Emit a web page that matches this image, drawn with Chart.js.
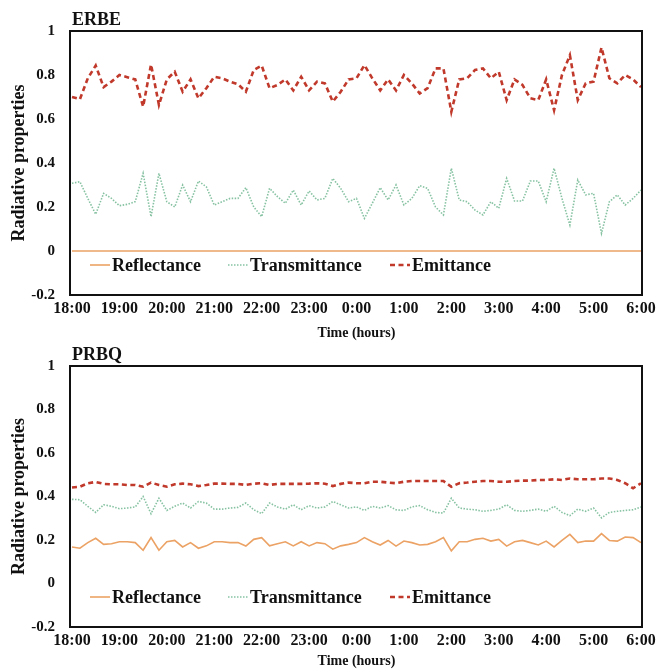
<!DOCTYPE html>
<html>
<head>
<meta charset="utf-8">
<script src="https://cdn.jsdelivr.net/npm/chart.js@4.4.0/dist/chart.umd.min.js"></script>
<style>
  html, body { margin: 0; padding: 0; background: #fff; }
  #wrap { position: relative; width: 656px; height: 672px; }
  .panel { position: absolute; left: 0; width: 656px; }
  #p1 { top: 0; height: 345px; }
  #p2 { top: 340px; height: 332px; }
</style>
</head>
<body>
<div id="wrap">
  <div class="panel" id="p1"><canvas id="erbeChart"></canvas></div>
  <div class="panel" id="p2"><canvas id="prbqChart"></canvas></div>
</div>
<script>
// hour tick labels, one every 6th sample (10 min sampling)
const hourLabels = ['18:00', '19:00', '20:00', '21:00', '22:00', '23:00', '0:00',
                    '1:00', '2:00', '3:00', '4:00', '5:00', '6:00'];

// 10-minute categories from 18:00 to 6:00
const times = [];
for (let i = 0; i <= 72; i++) {
  const m = 18 * 60 + i * 10;
  const h = Math.floor(m / 60) % 24;
  const mm = m % 60;
  times.push(h + ':' + (mm < 10 ? '0' : '') + mm);
}

const seriesNames = ['Reflectance', 'Transmittance', 'Emittance'];

// ERBE
const erbeReflectance = new Array(73).fill(0);
const erbeTransmittance = [
  0.308, 0.315, 0.239, 0.167, 0.262, 0.239, 0.206, 0.212, 0.224, 0.353,
  0.156, 0.353, 0.224, 0.200, 0.300, 0.224, 0.318, 0.292, 0.209, 0.224,
  0.239, 0.239, 0.288, 0.200, 0.156, 0.285, 0.247, 0.217, 0.277, 0.209,
  0.273, 0.232, 0.239, 0.330, 0.285, 0.224, 0.239, 0.148, 0.217, 0.288,
  0.232, 0.300, 0.209, 0.239, 0.297, 0.285, 0.200, 0.164, 0.376, 0.232,
  0.224, 0.186, 0.164, 0.224, 0.194, 0.330, 0.227, 0.227, 0.318, 0.318,
  0.224, 0.376, 0.239, 0.118, 0.323, 0.255, 0.262, 0.080, 0.224, 0.255,
  0.209, 0.239, 0.277
];
const erbeEmittance = [
  0.700, 0.690, 0.785, 0.843, 0.745, 0.770, 0.800, 0.790, 0.780, 0.656,
  0.848, 0.664, 0.780, 0.815, 0.724, 0.780, 0.694, 0.740, 0.792, 0.785,
  0.770, 0.758, 0.724, 0.823, 0.843, 0.740, 0.755, 0.780, 0.730, 0.792,
  0.730, 0.770, 0.762, 0.679, 0.724, 0.780, 0.785, 0.845, 0.785, 0.730,
  0.780, 0.730, 0.800, 0.762, 0.716, 0.740, 0.830, 0.830, 0.633, 0.780,
  0.785, 0.823, 0.830, 0.785, 0.815, 0.686, 0.780, 0.755, 0.694, 0.686,
  0.780, 0.640, 0.800, 0.890, 0.686, 0.762, 0.770, 0.925, 0.785, 0.762,
  0.800, 0.780, 0.745
];

// PRBQ
const prbqReflectance = [
  0.168, 0.162, 0.188, 0.208, 0.180, 0.183, 0.192, 0.192, 0.188, 0.153,
  0.211, 0.153, 0.192, 0.198, 0.168, 0.188, 0.162, 0.173, 0.192, 0.192,
  0.188, 0.188, 0.172, 0.203, 0.211, 0.173, 0.183, 0.192, 0.173, 0.192,
  0.173, 0.188, 0.183, 0.158, 0.173, 0.180, 0.188, 0.211, 0.192, 0.177,
  0.198, 0.172, 0.195, 0.188, 0.177, 0.180, 0.192, 0.211, 0.150, 0.192,
  0.192, 0.203, 0.208, 0.195, 0.203, 0.172, 0.192, 0.198, 0.188, 0.177,
  0.195, 0.168, 0.198, 0.226, 0.188, 0.195, 0.195, 0.229, 0.198, 0.195,
  0.214, 0.211, 0.188
];
const prbqTransmittance = [
  0.387, 0.385, 0.355, 0.327, 0.362, 0.355, 0.344, 0.347, 0.352, 0.400,
  0.321, 0.392, 0.336, 0.355, 0.370, 0.347, 0.377, 0.370, 0.342, 0.342,
  0.347, 0.350, 0.370, 0.339, 0.321, 0.370, 0.352, 0.342, 0.362, 0.339,
  0.358, 0.347, 0.352, 0.377, 0.362, 0.347, 0.352, 0.336, 0.355, 0.347,
  0.358, 0.339, 0.336, 0.352, 0.358, 0.339, 0.327, 0.324, 0.392, 0.347,
  0.342, 0.339, 0.332, 0.336, 0.342, 0.362, 0.336, 0.332, 0.336, 0.342,
  0.332, 0.355, 0.327, 0.312, 0.342, 0.332, 0.347, 0.302, 0.327, 0.332,
  0.336, 0.339, 0.352
];
const prbqEmittance = [
  0.441, 0.445, 0.461, 0.467, 0.458, 0.456, 0.456, 0.453, 0.453, 0.445,
  0.464, 0.453, 0.445, 0.456, 0.459, 0.456, 0.448, 0.453, 0.459, 0.459,
  0.458, 0.458, 0.453, 0.459, 0.461, 0.453, 0.458, 0.458, 0.458, 0.458,
  0.459, 0.461, 0.459, 0.448, 0.458, 0.464, 0.461, 0.461, 0.468, 0.468,
  0.464, 0.461, 0.468, 0.471, 0.471, 0.471, 0.471, 0.471, 0.445, 0.461,
  0.464, 0.468, 0.471, 0.471, 0.468, 0.468, 0.471, 0.473, 0.473, 0.476,
  0.476, 0.479, 0.476, 0.483, 0.479, 0.479, 0.479, 0.483, 0.483, 0.476,
  0.461, 0.438, 0.461
];

const serif = '"Liberation Serif", "Times New Roman", serif';
const legendOffsets = [18, 156, 318];

// frame, panel title and in-plot legend
const panelDecor = {
  id: 'panelDecor',
  afterDatasetsDraw(chart, args, opts) {
    const { ctx, chartArea: a } = chart;
    ctx.save();
    ctx.strokeStyle = '#111';
    ctx.lineWidth = 2;
    ctx.strokeRect(a.left - 2, a.top, a.right - a.left + 3, a.bottom - a.top);

    ctx.fillStyle = '#111';
    ctx.font = 'bold 18px ' + serif;
    ctx.textAlign = 'left';
    ctx.textBaseline = 'alphabetic';
    ctx.fillText(opts.title, a.left, a.top - 6);

    const ly = a.bottom - 30;
    ctx.textBaseline = 'middle';
    chart.data.datasets.forEach((ds, i) => {
      const x0 = a.left + legendOffsets[i];
      ctx.strokeStyle = ds.borderColor;
      ctx.lineWidth = ds.borderWidth;
      ctx.setLineDash(ds.borderDash || []);
      ctx.beginPath();
      ctx.moveTo(x0, ly);
      ctx.lineTo(x0 + 20, ly);
      ctx.stroke();
      ctx.setLineDash([]);
      ctx.fillText(ds.label, x0 + 22, ly + 1);
    });
    ctx.restore();
  }
};

function makeChart(id, title, refl, trans, emit, padTop, xHeight, xTitlePad) {
  return new Chart(document.getElementById(id), {
    type: 'line',
    data: {
      labels: times,
      datasets: [
        { label: seriesNames[0], data: refl, borderColor: '#EBA264', borderWidth: 1.6 },
        { label: seriesNames[1], data: trans, borderColor: '#86C2A2', borderWidth: 1.6, borderDash: [1.5, 1.5] },
        { label: seriesNames[2], data: emit, borderColor: '#C0392B', borderWidth: 2.6, borderDash: [5, 3.5] }
      ]
    },
    options: {
      responsive: true,
      maintainAspectRatio: false,
      animation: false,
      elements: { point: { radius: 0 }, line: { tension: 0 } },
      layout: { padding: { top: padTop, right: 15, bottom: 0, left: 0 } },
      plugins: {
        legend: { display: false },
        tooltip: { enabled: false },
        panelDecor: { title: title }
      },
      scales: {
        x: {
          type: 'category',
          offset: false,
          border: { display: false },
          grid: { display: false, drawTicks: false },
          ticks: {
            autoSkip: false,
            maxRotation: 0,
            padding: 4,
            color: '#111',
            font: { family: serif, size: 16, weight: 'bold' },
            callback: (v, i) => (i % 6 === 0 ? hourLabels[i / 6] : '')
          },
          title: {
            display: true,
            text: 'Time (hours)',
            color: '#111',
            font: { family: serif, size: 14, weight: 'bold' },
            padding: { top: 0, bottom: xTitlePad }
          },
          afterFit: (s) => {
            s.height = xHeight;
            s.paddingLeft = 0;
            s.paddingRight = 0;
          }
        },
        y: {
          min: -0.2,
          max: 1,
          border: { display: false },
          grid: { display: false, drawTicks: false },
          ticks: {
            stepSize: 0.2,
            padding: 17,
            color: '#111',
            font: { family: serif, size: 15, weight: 'bold' },
            callback: (v) => String(+v.toFixed(1))
          },
          title: {
            display: true,
            text: 'Radiative properties',
            color: '#111',
            font: { family: serif, size: 18, weight: 'bold' },
            padding: { top: 9, bottom: 0 }
          },
          afterFit: (s) => { s.width = 72; }
        }
      }
    },
    plugins: [panelDecor]
  });
}

makeChart('erbeChart', 'ERBE', erbeReflectance, erbeTransmittance, erbeEmittance, 31, 50, 3.6);
makeChart('prbqChart', 'PRBQ', prbqReflectance, prbqTransmittance, prbqEmittance, 23, 45, 2.6);
</script>
</body>
</html>
